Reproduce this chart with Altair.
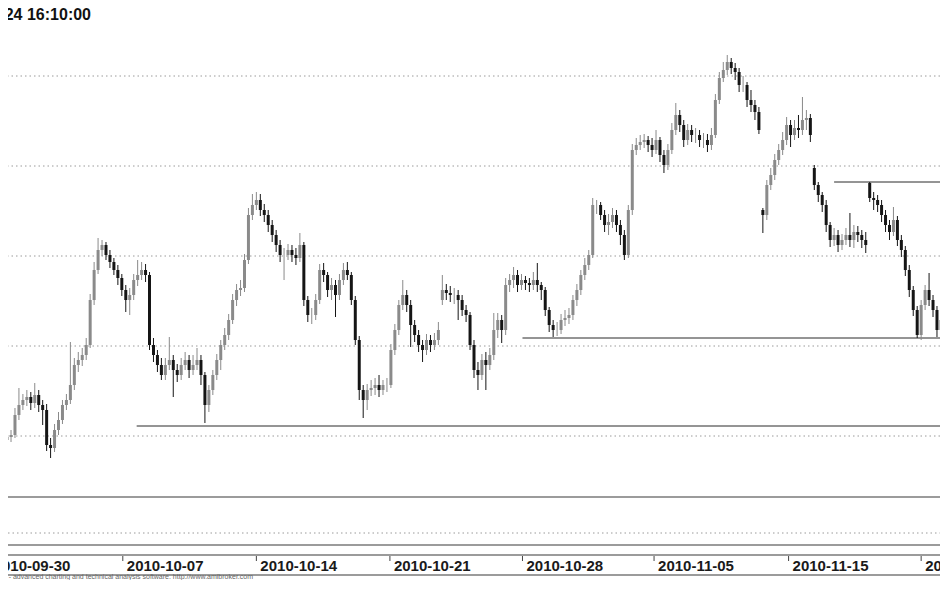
import altair as alt
import pandas as pd

# ---- hourly candles (price units) ----
opens = [
    2560, 2563, 2565, 2585, 2595, 2600, 2603, 2597, 2605, 2595,
    2590, 2555, 2552, 2570, 2580, 2595, 2600, 2615, 2635, 2640,
    2645, 2655, 2700, 2730, 2750, 2755, 2745, 2738, 2730, 2722,
    2710, 2700, 2705, 2720, 2725, 2730, 2725, 2655, 2645, 2635,
    2625, 2635, 2640, 2630, 2625, 2635, 2640, 2630, 2635, 2640,
    2625, 2595, 2610, 2625, 2640, 2655, 2665, 2680, 2700, 2710,
    2712, 2740, 2785, 2795, 2800, 2790, 2785, 2775, 2765, 2755,
    2745, 2745, 2750, 2745, 2742, 2755, 2700, 2685, 2685, 2700,
    2730, 2725, 2710, 2715, 2705, 2720, 2730, 2725, 2700, 2660,
    2610, 2600, 2610, 2612, 2615, 2610, 2615, 2615, 2650, 2670,
    2695, 2705, 2695, 2675, 2665, 2655, 2650, 2660, 2655, 2660,
    2700, 2710, 2707, 2705, 2705, 2700, 2690, 2685, 2655, 2630,
    2625, 2640, 2635, 2645, 2670, 2680, 2670, 2715, 2720, 2725,
    2715, 2720, 2717, 2715, 2720, 2715, 2710, 2690, 2675, 2670,
    2670, 2680, 2682, 2685, 2700, 2710, 2725, 2735, 2745, 2795,
    2795, 2785, 2775, 2778, 2785, 2775, 2765, 2745, 2790, 2850,
    2855, 2858, 2860, 2855, 2850, 2860, 2845, 2835, 2850, 2870,
    2885, 2875, 2860, 2870, 2865, 2865, 2860, 2860, 2855, 2865,
    2900, 2922, 2930, 2938, 2932, 2928, 2915, 2915, 2900, 2895,
    2888, 2790, 2785, 2815, 2825, 2840, 2850, 2860, 2875, 2865,
    2872, 2870, 2880, 2882, 2832, 2815, 2805, 2795, 2775, 2760,
    2765, 2755, 2760, 2765, 2760, 2768, 2765, 2760, 2817, 2802,
    2800, 2795, 2785, 2775, 2768, 2780, 2760, 2750, 2730, 2710,
    2690, 2665, 2695, 2710, 2700, 2690, 2670,
]
highs = [
    2568, 2570, 2592, 2612, 2606, 2610, 2608, 2617, 2610, 2600,
    2596, 2562, 2576, 2588, 2600, 2606, 2658, 2642, 2648, 2652,
    2662, 2706, 2738, 2762, 2760, 2758, 2750, 2742, 2735, 2726,
    2715, 2712, 2726, 2740, 2738, 2736, 2728, 2662, 2650, 2642,
    2642, 2663, 2645, 2636, 2642, 2648, 2645, 2645, 2652, 2645,
    2628, 2615, 2630, 2646, 2660, 2672, 2686, 2706, 2716, 2720,
    2746, 2792, 2806, 2808, 2806, 2796, 2790, 2780, 2770, 2760,
    2752, 2756, 2755, 2752, 2767, 2758, 2704, 2692, 2706, 2736,
    2737, 2728, 2722, 2720, 2726, 2737, 2738, 2728, 2704, 2664,
    2615, 2616, 2620, 2622, 2625, 2620, 2622, 2656, 2676, 2700,
    2720, 2710, 2700, 2680, 2670, 2660, 2666, 2665, 2667, 2678,
    2725, 2716, 2714, 2712, 2710, 2705, 2695, 2688, 2660, 2638,
    2646, 2648, 2652, 2687, 2687, 2685, 2722, 2726, 2733, 2730,
    2726, 2724, 2722, 2728, 2737, 2718, 2713, 2693, 2680, 2678,
    2686, 2690, 2692, 2705, 2716, 2730, 2742, 2750, 2802, 2800,
    2798, 2790, 2786, 2792, 2790, 2780, 2770, 2795, 2856, 2862,
    2865, 2866, 2864, 2862, 2870, 2863, 2850, 2856, 2877, 2897,
    2890, 2880, 2876, 2875, 2872, 2870, 2867, 2866, 2872, 2906,
    2928, 2938, 2945, 2942, 2937, 2932, 2924, 2918, 2910, 2900,
    2893, 2792, 2820, 2832, 2846, 2856, 2868, 2883, 2880, 2880,
    2885, 2903, 2890, 2886, 2835, 2818, 2808, 2800, 2778, 2772,
    2770, 2766, 2772, 2787, 2775, 2774, 2770, 2768, 2818, 2808,
    2805, 2800, 2790, 2780, 2793, 2784, 2765, 2754, 2735, 2714,
    2694, 2700, 2715, 2727, 2705, 2694, 2686,
]
lows = [
    2556, 2558, 2562, 2580, 2590, 2594, 2590, 2592, 2588, 2575,
    2549, 2542, 2548, 2565, 2576, 2590, 2596, 2610, 2628, 2634,
    2640, 2652, 2695, 2726, 2744, 2740, 2732, 2725, 2715, 2704,
    2688, 2685, 2700, 2714, 2720, 2718, 2650, 2638, 2628, 2620,
    2620, 2630, 2603, 2618, 2620, 2630, 2622, 2625, 2630, 2615,
    2577, 2588, 2605, 2620, 2630, 2650, 2660, 2676, 2694, 2704,
    2708, 2736, 2780, 2790, 2784, 2778, 2768, 2758, 2748, 2738,
    2720, 2740, 2738, 2735, 2738, 2694, 2678, 2676, 2680, 2696,
    2718, 2703, 2700, 2683, 2700, 2715, 2720, 2695, 2655, 2600,
    2582, 2590, 2604, 2605, 2603, 2605, 2608, 2612, 2645, 2665,
    2690, 2688, 2653, 2658, 2648, 2638, 2645, 2648, 2650, 2655,
    2695, 2700, 2698, 2696, 2680, 2684, 2678, 2650, 2622, 2610,
    2620, 2610, 2630, 2640, 2662, 2657, 2665, 2708, 2712, 2708,
    2710, 2710, 2708, 2710, 2708, 2700, 2684, 2668, 2663, 2664,
    2666, 2674, 2676, 2680, 2694, 2705, 2720, 2730, 2742, 2786,
    2780, 2768, 2765, 2772, 2768, 2755, 2740, 2742, 2785, 2845,
    2850, 2852, 2848, 2843, 2846, 2838, 2827, 2830, 2846, 2865,
    2868, 2853, 2855, 2858, 2857, 2853, 2852, 2848, 2850, 2862,
    2896, 2918, 2925, 2926, 2920, 2908, 2908, 2893, 2888, 2880,
    2866, 2767, 2780, 2810, 2820, 2835, 2845, 2855, 2853, 2860,
    2862, 2865, 2870, 2858, 2810, 2798, 2788, 2768, 2753, 2754,
    2748, 2750, 2755, 2753, 2752, 2758, 2752, 2747, 2798, 2790,
    2788, 2778, 2768, 2760, 2764, 2754, 2743, 2724, 2703, 2684,
    2662, 2660, 2690, 2694, 2683, 2663, 2664,
]
closes = [
    2563, 2565, 2585, 2595, 2600, 2603, 2597, 2605, 2595, 2590,
    2555, 2552, 2570, 2580, 2595, 2600, 2615, 2635, 2640, 2645,
    2655, 2700, 2730, 2750, 2755, 2745, 2738, 2730, 2722, 2710,
    2700, 2705, 2720, 2725, 2730, 2725, 2655, 2645, 2635, 2625,
    2635, 2640, 2630, 2625, 2635, 2640, 2630, 2635, 2640, 2625,
    2595, 2610, 2625, 2640, 2655, 2665, 2680, 2700, 2710, 2712,
    2740, 2785, 2795, 2800, 2790, 2785, 2775, 2765, 2755, 2745,
    2745, 2750, 2745, 2742, 2755, 2700, 2685, 2685, 2700, 2730,
    2725, 2710, 2715, 2705, 2720, 2730, 2725, 2700, 2660, 2610,
    2600, 2610, 2612, 2615, 2610, 2615, 2615, 2650, 2670, 2695,
    2705, 2695, 2675, 2665, 2655, 2650, 2660, 2655, 2660, 2670,
    2710, 2707, 2705, 2705, 2700, 2690, 2685, 2655, 2630, 2625,
    2640, 2635, 2645, 2670, 2680, 2670, 2715, 2720, 2725, 2715,
    2720, 2717, 2715, 2720, 2715, 2710, 2690, 2675, 2670, 2670,
    2680, 2682, 2685, 2700, 2710, 2725, 2735, 2745, 2795, 2795,
    2785, 2775, 2778, 2785, 2775, 2765, 2745, 2790, 2850, 2855,
    2858, 2860, 2855, 2850, 2860, 2845, 2835, 2850, 2870, 2885,
    2875, 2860, 2870, 2865, 2865, 2860, 2860, 2855, 2865, 2900,
    2922, 2930, 2938, 2932, 2928, 2915, 2915, 2900, 2895, 2888,
    2870, 2785, 2815, 2825, 2840, 2850, 2860, 2875, 2865, 2872,
    2870, 2880, 2882, 2865, 2815, 2805, 2795, 2775, 2760, 2765,
    2755, 2760, 2765, 2760, 2768, 2765, 2760, 2755, 2802, 2800,
    2795, 2785, 2775, 2768, 2780, 2760, 2750, 2730, 2710, 2690,
    2665, 2695, 2710, 2700, 2690, 2670, 2680,
]

# gridline levels of the price pane
grid_levels = [2564, 2654, 2744, 2834, 2924]

# horizontal support / resistance lines: start bar, end bar, level
sr_start = [32.75, 130.25, 209]
sr_end = [240, 240, 240]
sr_level = [2574, 2662, 2818]

# date axis labels and the bar where each one starts
date_labels = ["2010-09-30", "2010-10-07", "2010-10-14", "2010-10-21",
               "2010-10-28", "2010-11-05", "2010-11-15", "2010-11-22"]
date_bar = [-4.4, 29.25, 63, 96.75, 130.25, 163.5, 197.5, 231]

title_text = "2010-11-24 16:10:00"
footer_text = "AmiBroker - advanced charting and technical analysis software. http://www.amibroker.com"

W, H = 932, 572
UP, DOWN = "#8a8a8a", "#151515"
FRAME = "#7a7a7a"

n = len(closes)
df = pd.DataFrame({
    "i": list(range(n)),
    "o": opens[:n], "h": highs[:n], "l": lows[:n], "c": closes,
})
df["dir"] = ["up" if c >= o else "down" for o, c in zip(df["o"], df["c"])]

xs = alt.Scale(domain=[1.5, 234.5], nice=False, zero=False)
ys = alt.Scale(domain=[2992 - H, 2992], nice=False, zero=False)
col = alt.Color("dir:N", scale=alt.Scale(domain=["up", "down"], range=[UP, DOWN]), legend=None)

base = alt.Chart(df)

grid = alt.Chart(pd.DataFrame({"g": grid_levels})).mark_rule(
    color="#9a9a9a", strokeDash=[1.5, 3], strokeWidth=1
).encode(y=alt.Y("g:Q", scale=ys, axis=None))

sr = alt.Chart(pd.DataFrame({"s": sr_start, "e": sr_end, "v": sr_level})).mark_rule(
    color="#2a2a2a", strokeWidth=1, clip=True
).encode(
    x=alt.X("s:Q", scale=xs, axis=None), x2="e:Q",
    y=alt.Y("v:Q", scale=ys, axis=None),
)

wicks = base.mark_rule(strokeWidth=1, clip=True).encode(
    x=alt.X("i:Q", scale=xs, axis=None),
    y=alt.Y("l:Q", scale=ys, axis=None), y2="h:Q",
    color=col,
)
bodies = base.mark_bar(size=3, clip=True).encode(
    x=alt.X("i:Q", scale=xs, axis=None),
    y=alt.Y("o:Q", scale=ys, axis=None), y2="c:Q",
    color=col,
)

one = pd.DataFrame({"a": [0]})
title = alt.Chart(one).mark_text(
    text=title_text, align="right", baseline="alphabetic",
    font="Liberation Sans", fontSize=16, fontWeight="bold", color="#111111",
).encode(x=alt.value(83), y=alt.value(12))

def hline(y, dash=None, color=FRAME, width=1.5):
    kw = dict(color=color, strokeWidth=width)
    if dash:
        kw["strokeDash"] = dash
    return alt.Chart(one).mark_rule(**kw).encode(
        x=alt.value(0), x2=alt.value(W), y=alt.value(y))

pane_lines = [
    hline(489),
    hline(525, dash=[1.5, 3], color="#9a9a9a", width=1),
    hline(537),
    hline(547),
    hline(567),
]

dates_df = pd.DataFrame({"d": date_labels, "b": date_bar})
date_ticks = alt.Chart(dates_df).mark_rule(color="#444444", strokeWidth=1).encode(
    x=alt.X("b:Q", scale=xs, axis=None), y=alt.value(548), y2=alt.value(553))
date_text = alt.Chart(dates_df).mark_text(
    align="left", baseline="alphabetic", dx=4,
    font="Liberation Sans", fontSize=15, fontWeight="bold", color="#1a1a1a",
).encode(x=alt.X("b:Q", scale=xs, axis=None), y=alt.value(563), text="d:N")

footer = alt.Chart(one).mark_text(
    text=footer_text, align="right", baseline="alphabetic",
    font="Liberation Sans", fontSize=7, color="#666666",
).encode(x=alt.value(245), y=alt.value(571))

chart = alt.layer(
    grid, sr, wicks, bodies, title, *pane_lines, date_ticks, date_text, footer
).properties(
    width=W, height=H, padding=0,
    autosize=alt.AutoSizeParams(type="none"),
).configure(background="white").configure_view(stroke=None, strokeWidth=0)

chart.save("out.html", embed_options={"renderer": "svg", "actions": False})
